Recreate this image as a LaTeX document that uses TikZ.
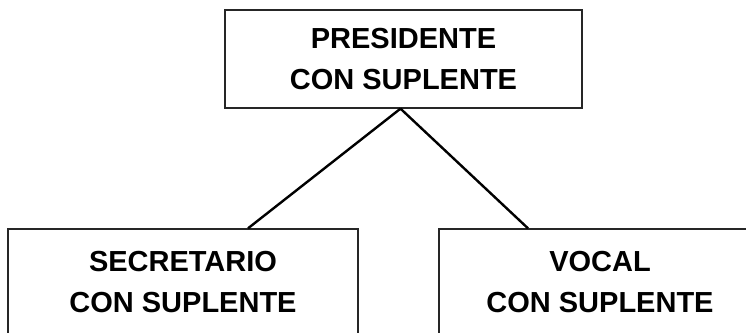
\documentclass[tikz,border=0pt]{standalone}
\usepackage{fontspec}
\setmainfont{Liberation Sans}

\begin{document}
\begin{tikzpicture}[x=1pt, y=1pt,
	every node/.style={font=\fontsize{29}{41}\selectfont\bfseries, align=center},
	box/.style={draw=black!85, line width=1.3pt, inner sep=0pt},
	link/.style={black, line width=2.4pt}]
	\clip (0,0) rectangle (746,332);
	\node[box, minimum width=357pt, minimum height=98pt] (pres) at (403.5,273) {PRESIDENTE\\CON SUPLENTE};
	\node[box, minimum width=350pt, minimum height=107pt] (secr) at (183,49.5) {SECRETARIO\\CON SUPLENTE};
	\node[box, minimum width=322pt, minimum height=107pt] (vocal) at (600,49.5) {VOCAL\\CON SUPLENTE};
	\draw[link] ([xshift=-3pt]pres.south) -- ([xshift=65pt]secr.north);
	\draw[link] ([xshift=-3pt]pres.south) -- ([xshift=-72pt]vocal.north);
\end{tikzpicture}
\end{document}
